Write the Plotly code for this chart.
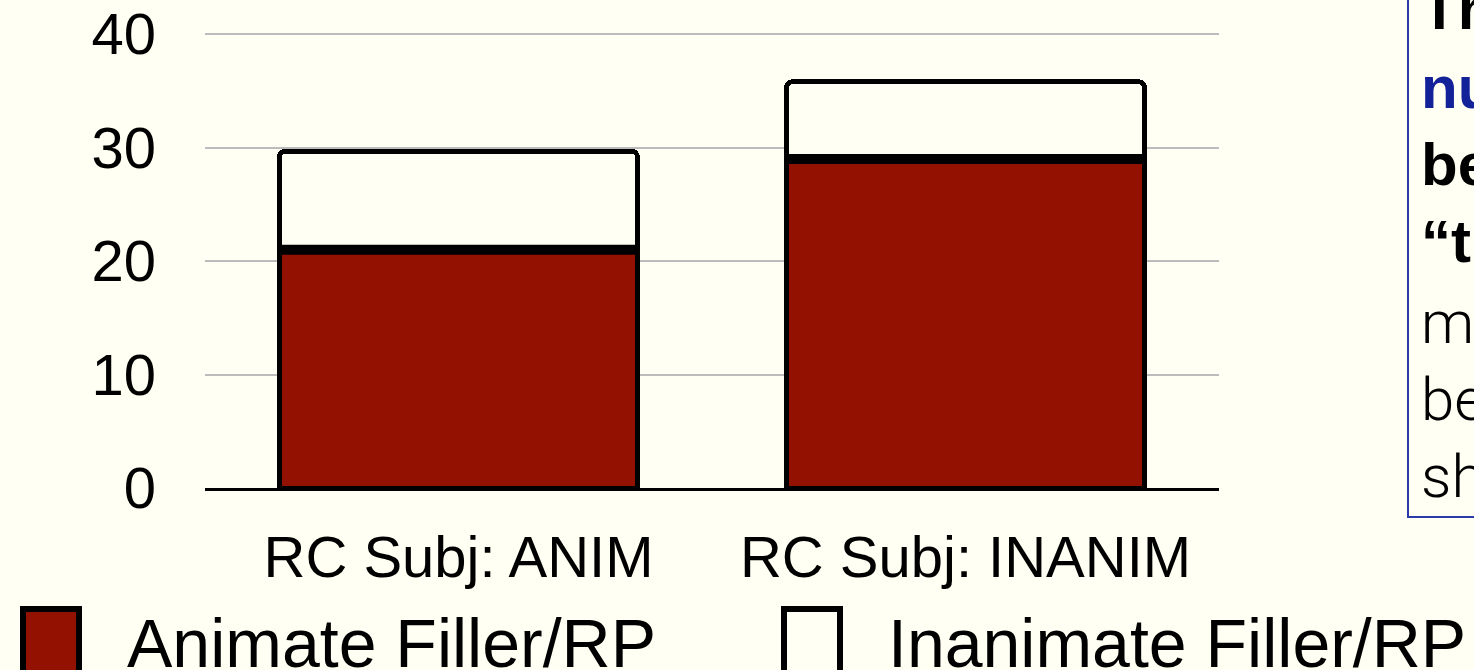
import plotly.graph_objects as go

# Stacked counts per RC-subject condition
categories = ["RC Subj: ANIM", "RC Subj: INANIM"]
animate_rp = [21.0, 29.0]
inanimate_rp = [8.7, 6.8]
y_ticks = [0, 10, 20, 30, 40]

legend_labels = ["Animate Filler/RP", "Inanimate Filler/RP"]

# Side note text, line by line: (text, bold, colour)
note_lines = [
    ("The", True, "#000000"),
    ("number", True, "#14229a"),
    ("between", True, "#000000"),
    ("“the”", True, "#000000"),
    ("my", False, "#000000"),
    ("be", False, "#000000"),
    ("show", False, "#000000"),
]

BG = "#fffff3"
RED = "#921100"
BAR_W = 0.706
FONT = "Liberation Sans, Arial, Helvetica, sans-serif"

W, H = 1474, 670
L, R, T, B = 205, 255, 33, 182
PW, PH = W - L - R, H - T - B
# a hair of headroom so the top gridline is not clipped at the plot edge
Y_MAX = 40.1


def px_x(px):
    return (px - L) / PW


def px_y(py):
    return (H - B - py) / PH


fig = go.Figure()
fig.add_bar(
    x=categories, y=animate_rp, name=legend_labels[0], width=BAR_W,
    marker=dict(color=RED, line=dict(color="black", width=5)),
)
fig.add_bar(
    x=categories, y=inanimate_rp, name=legend_labels[1], width=BAR_W,
    marker=dict(color=BG, line=dict(color="black", width=5)),
)

shapes = []
# heavier divider where the two segments of each stack meet
for i, v in enumerate(animate_rp):
    shapes.append(dict(
        type="line", xref="x", yref="y",
        x0=i - BAR_W / 2, x1=i + BAR_W / 2, y0=v, y1=v,
        line=dict(color="black", width=10), layer="above",
    ))

# legend swatches
swatches = [(23, 79, RED), (784, 840, BG)]
for x0, x1, col in swatches:
    shapes.append(dict(
        type="rect", xref="paper", yref="paper",
        x0=px_x(x0), x1=px_x(x1), y0=px_y(609), y1=px_y(690),
        fillcolor=col, line=dict(color="black", width=6),
    ))

# note box border
shapes.append(dict(
    type="rect", xref="paper", yref="paper",
    x0=px_x(1408), x1=px_x(1700), y0=px_y(-20), y1=px_y(517),
    fillcolor="rgba(0,0,0,0)", line=dict(color="#2a3aa8", width=2),
))

annotations = []
for (lbl, x_text) in zip(legend_labels, [125, 886]):
    annotations.append(dict(
        text=lbl, xref="paper", yref="paper", x=px_x(x_text), y=px_y(643),
        xanchor="left", yanchor="middle", showarrow=False,
        font=dict(family=FONT, size=68, color="black"),
    ))

baselines = [30, 108, 185, 262, 343, 420, 497]
for (txt, bold, col), base in zip(note_lines, baselines):
    annotations.append(dict(
        text=txt, xref="paper", yref="paper", x=px_x(1419), y=px_y(base - 21),
        xanchor="left", yanchor="middle", showarrow=False,
        font=dict(
            family=FONT if bold else "Roboto, Lato, sans-serif",
            size=60, color=col, weight=700 if bold else 300,
        ),
    ))

fig.update_layout(
    width=W, height=H,
    margin=dict(l=L, r=R, t=T, b=B, pad=0, autoexpand=False),
    barmode="stack",
    barcornerradius=6,
    paper_bgcolor=BG, plot_bgcolor=BG,
    showlegend=False,
    shapes=shapes,
    annotations=annotations,
    xaxis=dict(
        automargin=False,
        showgrid=False, showline=True, linecolor="black", linewidth=3,
        tickfont=dict(family=FONT, size=58, color="black"),
        ticks="", ticklabelstandoff=16,
    ),
    yaxis=dict(
        automargin=False,
        range=[0, Y_MAX], tickvals=y_ticks, showgrid=True,
        gridcolor="#bcbcbc", gridwidth=2, zeroline=False,
        tickfont=dict(family=FONT, size=58, color="black"),
        ticks="", ticklabelstandoff=48,
    ),
)

fig.write_html("out.html", config={"displayModeBar": False})
